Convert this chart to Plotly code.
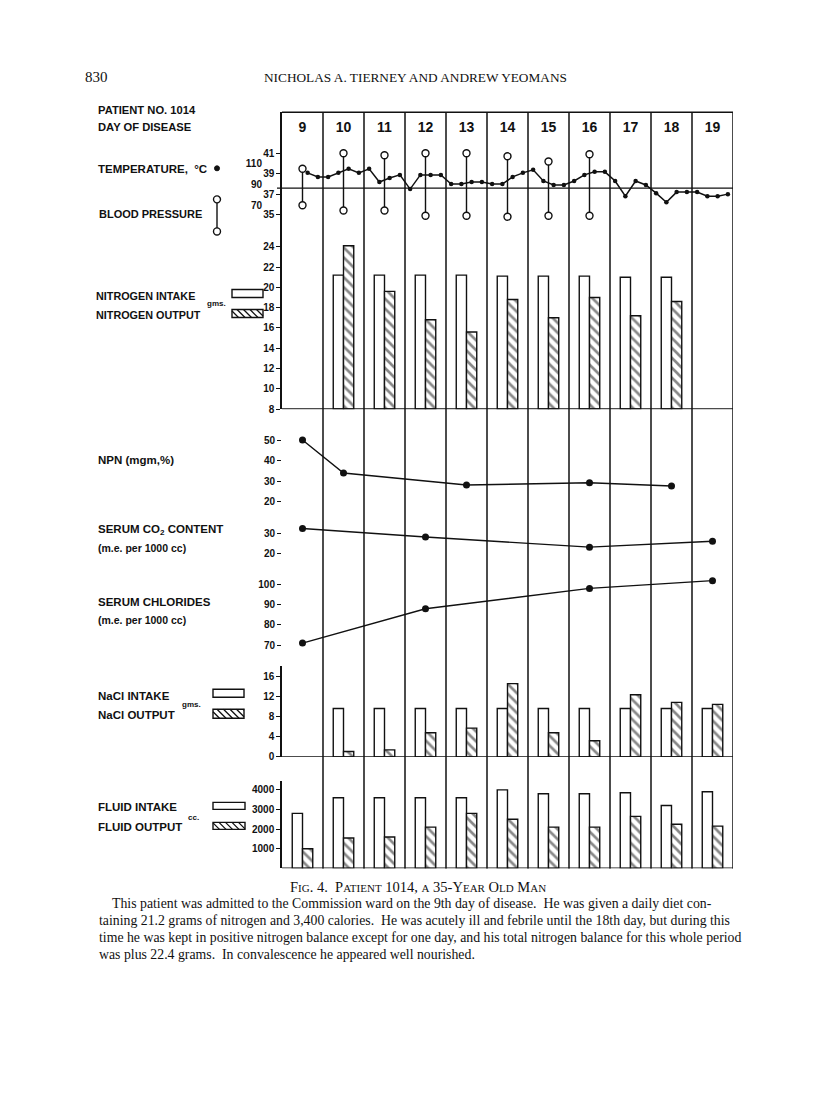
import plotly.graph_objects as go

# page geometry: html body adds an 8 px margin; the snapshot is slightly squeezed vertically
PAGE_W, PAGE_H = 816, 1105
OFF = 8
SY = 1105 / 1113
W, H = PAGE_W - 2 * OFF, PAGE_H - 3 * OFF
def X(px): return (px - OFF) / W
def Y(py): return 1 - (py / SY - OFF) / H

# ---------------- data ----------------
days = [9, 10, 11, 12, 13, 14, 15, 16, 17, 18, 19]
day_labels = ["9", "10", "11", "12", "13", "14", "15", "16", "17", "18", "19"]

temp_times = [9.125, 9.375, 9.625, 9.875, 10.125, 10.375, 10.625, 10.875,
              11.125, 11.375, 11.625, 11.875, 12.125, 12.375, 12.625, 12.875,
              13.125, 13.375, 13.625, 13.875, 14.125, 14.375, 14.625, 14.875,
              15.125, 15.375, 15.625, 15.875, 16.125, 16.375, 16.625, 16.875,
              17.125, 17.375, 17.625, 17.875, 18.125, 18.375, 18.625, 18.875,
              19.125, 19.375]
temp_c = [39.1, 38.7, 38.7, 39.1, 39.5, 39.1, 39.5, 38.2,
          38.6, 38.9, 37.5, 38.9, 38.9, 38.9, 38.0, 38.0,
          38.2, 38.2, 38.0, 38.0, 38.7, 39.1, 39.4, 38.3,
          37.9, 37.9, 38.3, 38.9, 39.2, 39.2, 38.3, 36.8,
          38.3, 37.9, 37.1, 36.2, 37.2, 37.2, 37.2, 36.8,
          36.8, 37.0]
temp_ticks = [35, 37, 39, 41]
temp_reference = 37.6

bp_days = [9, 10, 11, 12, 13, 14, 15, 16]
bp_systolic = [105, 120, 118, 120, 120, 117, 112, 119]
bp_diastolic = [70, 65, 65, 60, 60, 59, 60, 60]
bp_ticks = [70, 90, 110]

n_days = [10, 11, 12, 13, 14, 15, 16, 17, 18]
nitrogen_intake = [21.2, 21.2, 21.2, 21.2, 21.1, 21.1, 21.1, 21.0, 21.0]
nitrogen_output = [24.1, 19.6, 16.8, 15.6, 18.8, 17.0, 19.0, 17.2, 18.6]
nitrogen_ticks = [8, 10, 12, 14, 16, 18, 20, 22, 24]
nitrogen_base = 8

npn_days = [9, 10, 13, 16, 18]
npn = [50.0, 34.0, 28.2, 29.3, 27.7]
npn_ticks = [20, 30, 40, 50]

co2_days = [9, 12, 16, 19]
co2 = [32.6, 28.3, 23.1, 26.1]
co2_ticks = [20, 30]

cl_days = [9, 12, 16, 19]
chlorides = [71.1, 88.0, 98.0, 101.8]
cl_ticks = [70, 80, 90, 100]

nacl_days = [10, 11, 12, 13, 14, 15, 16, 17, 18, 19]
nacl_intake = [9.6, 9.6, 9.6, 9.6, 9.6, 9.6, 9.6, 9.6, 9.6, 9.6]
nacl_output = [1.1, 1.4, 4.8, 5.7, 14.5, 4.8, 3.2, 12.3, 10.8, 10.4]
nacl_ticks = [0, 4, 8, 12, 16]

fluid_days = [9, 10, 11, 12, 13, 14, 15, 16, 17, 18, 19]
fluid_intake = [2800, 3600, 3600, 3600, 3600, 4000, 3800, 3800, 3850, 3200, 3900]
fluid_output = [1000, 1550, 1600, 2100, 2800, 2500, 2100, 2100, 2650, 2250, 2150]
fluid_ticks = [1000, 2000, 3000, 4000]

# ---------------- styling helpers ----------------
INK = "#111111"
SANS = "Liberation Sans"
SERIF = "Liberation Serif"

def axis_range(top_px, bottom_px, ref_val, ref_px, px_per_unit):
    return [ref_val - (bottom_px - ref_px) / px_per_unit,
            ref_val + (ref_px - top_px) / px_per_unit]

def dom(top_px, bottom_px):
    return [Y(bottom_px), Y(top_px)]

BW = 0.25  # bar width in days

def intake_bar(xs, ys, yaxis, base=None):
    return go.Bar(x=xs, y=ys, base=base, yaxis=yaxis, width=BW, offset=-BW,
                  marker=dict(color="white", line=dict(color=INK, width=1.4)),
                  hoverinfo="x+y")

def output_bar(xs, ys, yaxis, base=None):
    return go.Bar(x=xs, y=ys, base=base, yaxis=yaxis, width=BW, offset=0,
                  marker=dict(color="white", line=dict(color=INK, width=1.4),
                              pattern=dict(shape="\\", fgcolor=INK, bgcolor="white",
                                           size=7, solidity=0.38)),
                  hoverinfo="x+y")

fig = go.Figure()

# temperature
fig.add_trace(go.Scatter(x=temp_times, y=temp_c, yaxis="y", mode="lines+markers",
                         line=dict(color=INK, width=1.5),
                         marker=dict(color=INK, size=4.5)))
# blood pressure
bx, by = [], []
for d, s, dd in zip(bp_days, bp_systolic, bp_diastolic):
    bx += [d, d, None]
    by += [s, dd, None]
fig.add_trace(go.Scatter(x=bx, y=by, yaxis="y2", mode="lines+markers",
                         line=dict(color=INK, width=1.4),
                         marker=dict(color="white", size=7, line=dict(color=INK, width=1.4))))

# nitrogen
fig.add_trace(intake_bar(n_days, [v - nitrogen_base for v in nitrogen_intake], "y3", base=nitrogen_base))
fig.add_trace(output_bar(n_days, [v - nitrogen_base for v in nitrogen_output], "y3", base=nitrogen_base))

# NPN, CO2, chlorides
for xs, ys, ax in [(npn_days, npn, "y4"), (co2_days, co2, "y5"), (cl_days, chlorides, "y6")]:
    fig.add_trace(go.Scatter(x=xs, y=ys, yaxis=ax, mode="lines+markers",
                             line=dict(color=INK, width=1.4),
                             marker=dict(color=INK, size=7)))

# NaCl
fig.add_trace(intake_bar(nacl_days, nacl_intake, "y7"))
fig.add_trace(output_bar(nacl_days, nacl_output, "y7"))
# fluid
fig.add_trace(intake_bar(fluid_days, fluid_intake, "y8"))
fig.add_trace(output_bar(fluid_days, fluid_output, "y8"))

# ---------------- axes ----------------
tickfont = dict(family=SANS, size=10, color=INK, weight="bold")
def yax(domain, rng, ticks, showline=False):
    return dict(domain=domain, range=rng, tickvals=ticks, anchor="x",
                showgrid=False, zeroline=False, ticks="outside", ticklen=4,
                tickwidth=1.2, tickcolor=INK, tickfont=tickfont,
                showline=showline, linecolor=INK, linewidth=1.5, fixedrange=True)

left = days[0] - 0.5
right = days[-1] + 0.5

fig.update_layout(
    width=W, height=H, margin=dict(l=0, r=0, t=0, b=0),
    paper_bgcolor="white", plot_bgcolor="rgba(0,0,0,0)",
    showlegend=False, barmode="overlay",
    xaxis=dict(domain=[X(282), X(733)], range=[left, right], side="top",
               anchor="free", position=Y(112), tickvals=days, ticktext=day_labels,
               ticks="", ticklabelposition="inside", ticklabelstandoff=6,
               showgrid=False, zeroline=False, showline=False,
               tickfont=dict(family=SANS, size=14, color=INK, weight="bold"),
               fixedrange=True),
    yaxis=yax(dom(112, 225), axis_range(112, 225, 41, 153.3, 10.12), temp_ticks, showline=True),
    yaxis2=dict(overlaying="y", anchor="free", position=X(262), side="left",
                range=axis_range(112, 225, 110, 163.3, 1.04), tickvals=bp_ticks,
                ticks="", showgrid=False, zeroline=False, showline=False,
                tickfont=tickfont, fixedrange=True),
    yaxis3=yax(dom(225, 408.5), axis_range(225, 408.5, 8, 408.3, 10.125), nitrogen_ticks, showline=True),
    yaxis4=yax(dom(420, 512), axis_range(420, 512, 50, 439.3, 2.057), npn_ticks),
    yaxis5=yax(dom(515, 566), axis_range(515, 566, 30, 532.7, 1.96), co2_ticks),
    yaxis6=yax(dom(572, 656), axis_range(572, 656, 100, 583.3, 2.03), cl_ticks),
    yaxis7=yax(dom(665, 755.7), axis_range(665, 755.7, 0, 755.7, 5.05), nacl_ticks, showline=True),
    yaxis8=yax(dom(780, 866.9), axis_range(780, 866.9, 0, 866.9, 0.0196), fluid_ticks, showline=True),
)

# ---------------- frame shapes ----------------
shapes = []
line = dict(color=INK, width=1.5)
for d in days:
    shapes.append(dict(type="line", xref="x", yref="paper", x0=d + 0.5, x1=d + 0.5,
                       y0=Y(867), y1=Y(112), line=line))
shapes.append(dict(type="line", xref="x", yref="paper", x0=left, x1=right,
                   y0=Y(112), y1=Y(112), line=line))
shapes.append(dict(type="line", xref="paper", yref="y", x0=X(277), x1=X(733),
                   y0=temp_reference, y1=temp_reference, line=dict(color=INK, width=1.3),
                   layer="below"))
for ax, base in [("y3", nitrogen_base), ("y7", 0), ("y8", 0)]:
    shapes.append(dict(type="line", xref="x", yref=ax, x0=left, x1=right,
                       y0=base, y1=base, line=line))

# legend swatches (pixel boxes -> paper coords)
def hatch_path(x0, y0, x1, y1, step=6.5):
    h = y1 - y0
    segs = []
    c = x0 - h
    while c < x1:
        ta = max(0.0, x0 - c)
        tb = min(h, x1 - c)
        if tb > ta:
            segs.append(f"M{X(c + ta):.5f},{Y(y0 + ta):.5f} L{X(c + tb):.5f},{Y(y0 + tb):.5f}")
        c += step
    return " ".join(segs)

def swatch(x0, y0, x1, y1, hatched):
    out = [dict(type="rect", xref="paper", yref="paper", x0=X(x0), x1=X(x1),
                y0=Y(y1), y1=Y(y0), line=dict(color=INK, width=1.4), fillcolor="white")]
    if hatched:
        out.append(dict(type="path", xref="paper", yref="paper",
                        path=hatch_path(x0, y0, x1, y1), line=dict(color=INK, width=1.3)))
    return out

shapes += swatch(232, 289, 263, 297, False)
shapes += swatch(232, 309, 263, 317, True)
shapes += swatch(213, 688, 244, 696, False)
shapes += swatch(213, 708, 244, 717, True)
shapes += swatch(213, 801, 245, 808, False)
shapes += swatch(213, 821, 245, 828, True)

# BP legend symbol and temperature dot
shapes.append(dict(type="line", xref="paper", yref="paper", x0=X(217), x1=X(217),
                   y0=Y(231), y1=Y(199), line=dict(color=INK, width=1.4)))
for cy in (199, 231):
    shapes.append(dict(type="circle", xref="paper", yref="paper", x0=X(213.5), x1=X(220.5),
                       y0=Y(cy + 3.5), y1=Y(cy - 3.5), line=dict(color=INK, width=1.4),
                       fillcolor="white"))
shapes.append(dict(type="circle", xref="paper", yref="paper", x0=X(214.5), x1=X(219.5),
                   y0=Y(170.5), y1=Y(165.5), line=dict(color=INK, width=1), fillcolor=INK))
fig.update_layout(shapes=shapes)

# ---------------- text ----------------
ann = []
def label(text, px, py, size=11.5, family=SANS, bold=True, xanchor="left"):
    ann.append(dict(text=text, x=X(px), y=Y(py), xref="paper", yref="paper",
                    xanchor=xanchor, yanchor="middle", showarrow=False,
                    font=dict(family=family, size=size, color=INK,
                              weight="bold" if bold else "normal")))

label("PATIENT NO. 1014", 96, 110, size=11.2)
label("DAY OF DISEASE", 96, 127, size=11.2)
label("TEMPERATURE,  °C", 96, 169)
label("BLOOD PRESSURE", 97, 214, size=11)
label("NITROGEN INTAKE", 94, 295, size=10.8)
label("NITROGEN OUTPUT", 94, 314, size=10.8)
label("gms.", 205, 303, size=8)
label("NPN (mgm,%)", 96, 459)
label("SERUM CO<sub>2</sub> CONTENT", 96, 529)
label("(m.e. per 1000 cc)", 96, 547, size=10.5)
label("SERUM CHLORIDES", 96, 601)
label("(m.e. per 1000 cc)", 96, 619, size=10.5)
label("NaCl INTAKE", 96, 695)
label("gms.", 180, 703, size=8)
label("NaCl OUTPUT", 96, 714)
label("FLUID INTAKE", 96, 806)
label("cc.", 186, 816, size=8)
label("FLUID OUTPUT", 96, 826)

# page header
label("830", 83, 77, size=15, family=SERIF, bold=False)
label("NICHOLAS A. TIERNEY AND ANDREW YEOMANS", 262, 77, size=13.3, family=SERIF, bold=False)

# caption
sc = "font-size:11px"
cap = (f"F<span style='{sc}'>IG</span>. 4.  P<span style='{sc}'>ATIENT</span> 1014, "
       f"<span style='{sc}'>A</span> 35-Y<span style='{sc}'>EAR</span> "
       f"O<span style='{sc}'>LD</span> M<span style='{sc}'>AN</span>")
label(cap, 418, 885, size=14.5, family=SERIF, bold=False, xanchor="center")
body = [
    (110, 902, "This patient was admitted to the Commission ward on the 9th day of disease.  He was given a daily diet con-"),
    (97, 919, "taining 21.2 grams of nitrogen and 3,400 calories.  He was acutely ill and febrile until the 18th day, but during this"),
    (97, 936, "time he was kept in positive nitrogen balance except for one day, and his total nitrogen balance for this whole period"),
    (97, 953, "was plus 22.4 grams.  In convalescence he appeared well nourished."),
]
for px, py, t in body:
    label(t, px, py, size=13.8, family=SERIF, bold=False)

fig.update_layout(annotations=ann)
fig.write_html("out.html")
